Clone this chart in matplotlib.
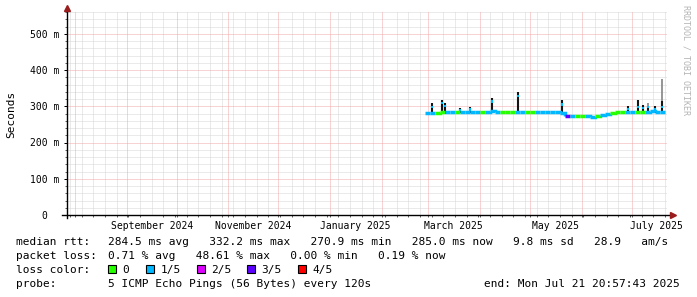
import numpy as np
import matplotlib
matplotlib.use("Agg")
import matplotlib.pyplot as plt
import matplotlib.dates as mdates
from matplotlib.patches import Rectangle
from matplotlib.collections import LineCollection

plt.rcParams["lines.scale_dashes"] = False

W, H = 697, 297
MONO = "DejaVu Sans Mono"

# ---------------- data ----------------
median_dates = ["2025-02-27", "2025-03-02", "2025-03-05", "2025-03-08", "2025-03-11", "2025-03-14",
                "2025-03-17", "2025-03-20", "2025-03-23", "2025-03-26", "2025-03-29", "2025-04-01",
                "2025-04-04", "2025-04-07", "2025-04-10", "2025-04-13", "2025-04-16", "2025-04-19",
                "2025-04-22", "2025-04-25", "2025-04-28", "2025-05-01", "2025-05-04", "2025-05-07",
                "2025-05-10", "2025-05-13", "2025-05-16", "2025-05-19", "2025-05-22", "2025-05-25",
                "2025-05-28", "2025-05-31", "2025-06-03", "2025-06-06", "2025-06-09", "2025-06-12",
                "2025-06-15", "2025-06-18", "2025-06-21", "2025-06-24", "2025-06-27", "2025-06-30",
                "2025-07-03", "2025-07-06", "2025-07-09", "2025-07-12", "2025-07-15", "2025-07-18",
                "2025-07-21"]
median_ms = [281, 281, 282, 284, 283, 284, 284, 285, 284, 285, 284, 284,
             285, 286, 284, 283, 283, 283, 285, 283, 283, 284, 285, 285,
             284, 284, 283, 281, 274, 273, 272, 272, 272, 271, 274, 276,
             279, 282, 283, 283, 283, 283, 284, 285, 284, 286, 285, 284,
             285]
median_loss = [1, 1, 0, 0, 1, 1, 0, 1, 1, 1, 1, 0,
               1, 1, 1, 0, 0, 0, 1, 1, 0, 0, 1, 1,
               1, 1, 1, 1, 3, 1, 0, 0, 1, 1, 0, 1,
               1, 0, 0, 0, 1, 1, 0, 0, 1, 1, 1, 1,
               1]

spike_dates = ["2025-03-03", "2025-03-09", "2025-03-11", "2025-03-20", "2025-03-26", "2025-04-08",
               "2025-04-24", "2025-05-20", "2025-06-29", "2025-07-05", "2025-07-08", "2025-07-11",
               "2025-07-15", "2025-07-19"]
spike_median_ms = [302, 312, 303, 292, 294, 316, 332, 308, 296, 300, 298, 300, 295, 300]
spike_smoke_ms = [308, 316, 308, 296, 299, 322, 340, 316, 301, 316, 304, 300, 300, 315]
spike_light_ms = [308, 316, 308, 296, 299, 322, 340, 316, 301, 316, 304, 309, 300, 376]

loss_labels = ["0", "1/5", "2/5", "3/5", "4/5"]
loss_colors = ["#26ff00", "#00b8ff", "#dd00ff", "#5e00ff", "#ff0000"]

y_ticks_ms = [0, 100, 200, 300, 400, 500]
y_tick_labels = ["0  ", "100 m", "200 m", "300 m", "400 m", "500 m"]
x_label_dates = ["2024-09-16", "2024-11-16", "2025-01-16", "2025-03-16", "2025-05-16", "2025-07-16"]
x_labels = ["September 2024", "November 2024", "January 2025", "March 2025", "May 2025", "July 2025"]

start = np.datetime64("2024-07-26T20:57:43")
end = np.datetime64("2025-07-21T20:57:43")

stats_rtt = "284.5 ms avg   332.2 ms max   270.9 ms min   285.0 ms now   9.8 ms sd   28.9   am/s"
stats_loss = "0.71 % avg   48.61 % max   0.00 % min   0.19 % now"
probe_text = "5 ICMP Echo Pings (56 Bytes) every 120s"
end_text = "end: Mon Jul 21 20:57:43 2025"

# ---------------- figure ----------------
fig = plt.figure(figsize=(W / 100, H / 100), dpi=100)
fig.patch.set_facecolor("white")


def fx(x):
    return x / W


def fy(y):
    return 1 - y / H


ax_left, ax_right, ax_top, ax_bot = 66.5, 666.5, 12.0, 215.0
ax = fig.add_axes([fx(ax_left), fy(ax_bot), (ax_right - ax_left) / W, (ax_bot - ax_top) / H])
ax.set_facecolor("white")
x0, x1 = mdates.date2num(start), mdates.date2num(end)
ax.set_xlim(x0, x1)
ax.set_ylim(0, 560)
for s in ax.spines.values():
    s.set_visible(False)

# grid (dotted, 1px on / 1px off)
weeks = np.arange(np.datetime64("2024-07-29"), np.datetime64("2025-07-22"), 7)
months = np.arange(np.datetime64("2024-08"), np.datetime64("2025-08"), dtype="datetime64[M]").astype("datetime64[D]")
wk_num = mdates.date2num(weeks)
mo_num = mdates.date2num(months)
grid_kw = dict(lw=0.72, linestyle=(0, (0.72, 0.72)), zorder=0)
minor_col = "#d6d6d6"
major_col = "#f2a8a8"
for d in wk_num:
    if np.min(np.abs(mo_num - d)) > 2:
        ax.axvline(d, color=minor_col, **grid_kw)
for v in range(20, 561, 20):
    if v % 100:
        ax.axhline(v, color=minor_col, **grid_kw)
for d in mo_num:
    ax.axvline(d, color=major_col, **grid_kw)
for v in range(100, 501, 100):
    ax.axhline(v, color=major_col, **grid_kw)

# smoke spikes
md = mdates.date2num(np.array(median_dates, dtype="datetime64[D]"))
sd = mdates.date2num(np.array(spike_dates, dtype="datetime64[D]"))
base = np.interp(sd, md, median_ms) - 3
ax.vlines(sd, base, spike_light_ms, color="#8c8c8c", lw=1.3, zorder=2)
ax.vlines(sd, base, spike_smoke_ms, color="#151515", lw=1.5, zorder=3)
ax.vlines(sd, np.array(spike_median_ms) - 6, spike_median_ms, color=loss_colors[1], lw=1.5, zorder=4)

# median line coloured by loss
segs = []
cols = []
for i in range(len(md) - 1):
    segs.append([(md[i], median_ms[i]), (md[i + 1], median_ms[i]), (md[i + 1], median_ms[i + 1])])
    cols.append(loss_colors[median_loss[i]])
lc = LineCollection(segs, colors=cols, linewidths=2.5, capstyle="butt", joinstyle="miter", zorder=5)
ax.add_collection(lc)

# ticks
ax.set_yticks(y_ticks_ms)
ax.set_yticklabels(y_tick_labels, fontfamily=MONO, fontsize=7)
ax.set_yticks(range(20, 561, 20), minor=True)
ax.tick_params(axis="y", which="major", length=2.5, width=0.72, pad=2.5, color="black")
ax.tick_params(axis="y", which="minor", length=1.5, width=0.6, color="#444444")
ax.set_xticks(mdates.date2num(np.array(x_label_dates, dtype="datetime64[D]")))
ax.set_xticklabels(x_labels, fontfamily=MONO, fontsize=7)
ax.set_xticks(np.concatenate([wk_num, mo_num]), minor=True)
ax.tick_params(axis="x", which="major", length=0, pad=4.5)
ax.tick_params(axis="x", which="minor", length=1.5, width=0.6, color="#444444")

# axes lines with arrows
ax.plot([-0.008, 1.01], [0, 0], color="black", lw=1.0, clip_on=False, zorder=6, transform=ax.transAxes)
ax.plot([0, 0], [-0.015, 1.015], color="black", lw=1.0, clip_on=False, zorder=6, transform=ax.transAxes)
ax.plot([1.011], [0], marker=">", color="#9a1c1c", ms=4, clip_on=False, zorder=7, transform=ax.transAxes)
ax.plot([0], [1.02], marker="^", color="#9a1c1c", ms=4, clip_on=False, zorder=7, transform=ax.transAxes)

# y label
fig.text(fx(11), fy(114), "Seconds", rotation=90, ha="center", va="center", fontfamily=MONO, fontsize=8)

# watermark
fig.text(fx(686), fy(60), "RRDTOOL / TOBI OETIKER", rotation=270, ha="center", va="center",
         fontfamily=MONO, fontsize=6, color="#b4b4b4")

# legend
lx, vx = 16, 108
rows = [245, 259, 273, 287]
tk = dict(fontfamily=MONO, fontsize=8, va="baseline", color="black")
fig.text(fx(lx), fy(rows[0]), "median rtt:", **tk)
fig.text(fx(vx), fy(rows[0]), stats_rtt, **tk)
fig.text(fx(lx), fy(rows[1]), "packet loss:", **tk)
fig.text(fx(vx), fy(rows[1]), stats_loss, **tk)
fig.text(fx(lx), fy(rows[2]), "loss color:", **tk)
box_x = [108, 146, 196.5, 247, 298]
for bx, lab, col in zip(box_x, loss_labels, loss_colors):
    fig.add_artist(Rectangle((fx(bx), fy(273)), 8 / W, 8 / H, transform=fig.transFigure,
                             facecolor=col, edgecolor="black", lw=0.8))
    fig.text(fx(bx + 14.5), fy(rows[2]), lab, **tk)
fig.text(fx(lx), fy(rows[3]), "probe:", **tk)
fig.text(fx(vx), fy(rows[3]), probe_text, **tk)
fig.text(fx(680), fy(rows[3]), end_text, ha="right", fontfamily=MONO, fontsize=8, va="baseline")

fig.savefig("out.png", dpi=100, facecolor="white")
